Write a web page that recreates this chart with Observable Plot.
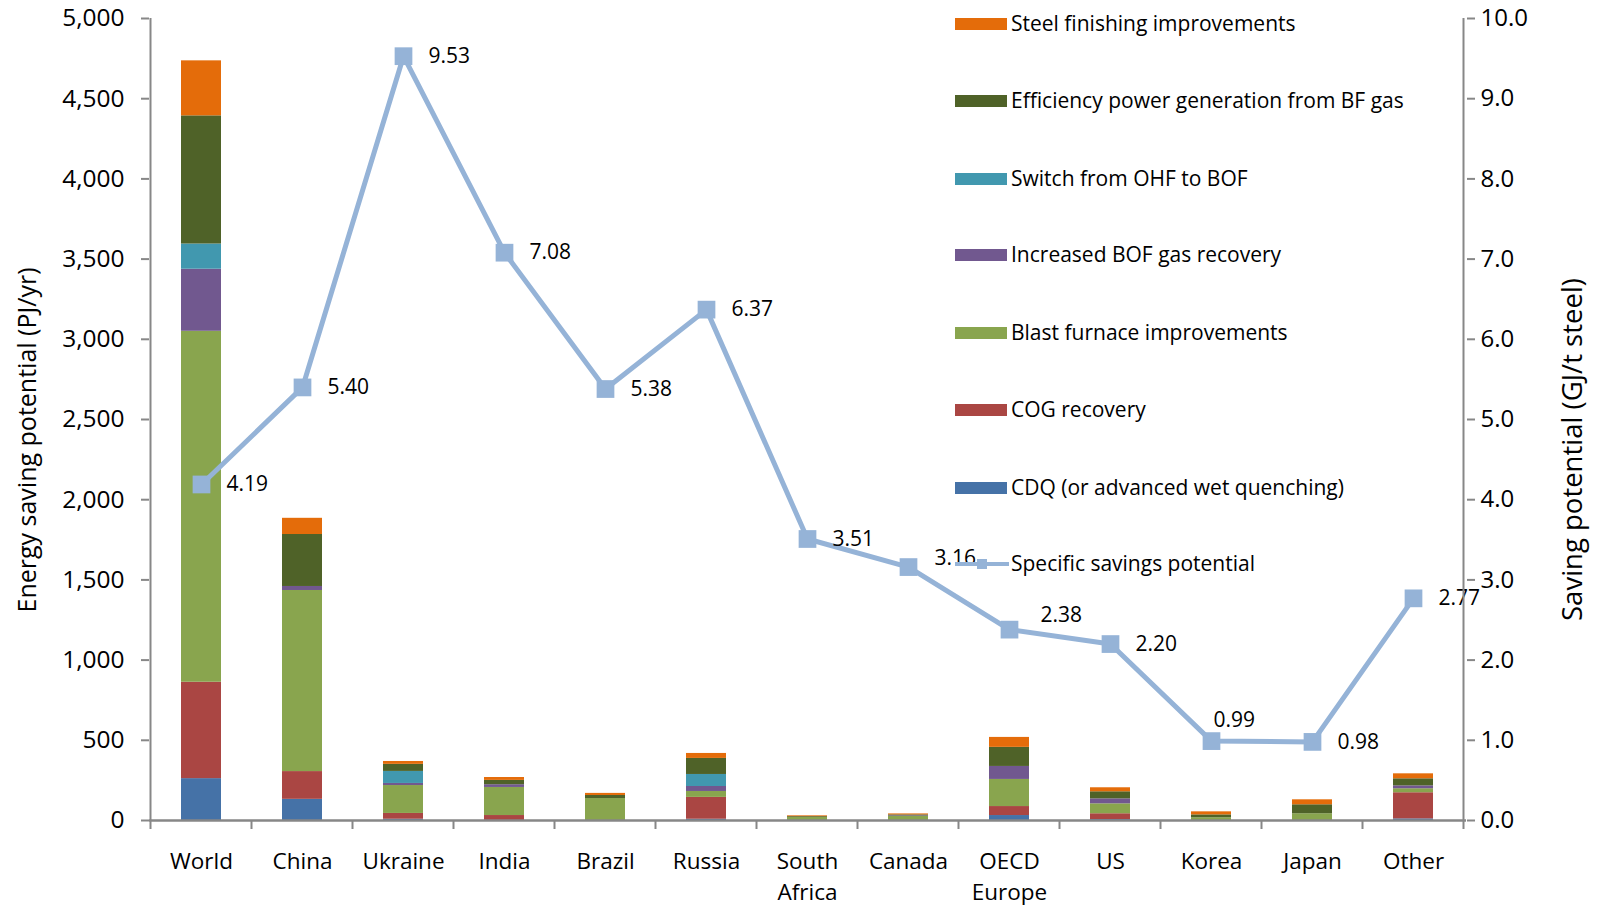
<!DOCTYPE html>
<html>
<head>
<meta charset="utf-8">
<script src="https://cdn.jsdelivr.net/npm/d3@7"></script>
<script src="https://cdn.jsdelivr.net/npm/@observablehq/plot@0.6"></script>
<style>
  html, body { margin: 0; padding: 0; background: #fff; }
  #wrap { position: relative; width: 1600px; height: 908px; font-family: "Open Sans", sans-serif; color: #000; }
  .ytitle { position: absolute; white-space: nowrap; font-size: 25px; transform-origin: center center; }
  .legend { position: absolute; left: 955px; top: 0; font-size: 21px; }
  .lrow { position: absolute; left: 0; height: 0; white-space: nowrap; }
  .sw { position: absolute; left: 0; width: 52px; height: 12px; top: -6px; }
  .lt { position: absolute; left: 56px; top: -15px; line-height: 28px; }
</style>
</head>
<body>
<div id="wrap"></div>
<script>
// ---- data ----
const countries = ["World","China","Ukraine","India","Brazil","Russia","South\nAfrica","Canada","OECD\nEurope","US","Korea","Japan","Other"];
const measures = [
  "CDQ (or advanced wet quenching)",
  "COG recovery",
  "Blast furnace improvements",
  "Increased BOF gas recovery",
  "Switch from OHF to BOF",
  "Efficiency power generation from BF gas",
  "Steel finishing improvements"
];
const colors = ["#4572A7","#AA4643","#89A54E","#71588F","#4198AF","#4F6228","#E46C0A"];
const cdq       = [261,132,  8,  0,  0,  8,  0,  0, 31,  6,  0,  0, 10];
const cog       = [601,173, 36, 31,  0,136,  0,  0, 56, 36,  0,  0,163];
const blast     = [2188,1129,174,175,137,37, 19, 25,169, 62, 17, 42, 25];
const bofGas    = [387, 25, 13, 17,  0, 31,  0,  4, 81, 31,  0,  0, 18];
const ohfSwitch = [157,  0, 75,  0,  0, 75,  0,  0,  0,  0,  0,  0,  0];
const bfPower   = [799,324, 44, 27, 19,100,  5,  6,119, 44, 18, 56, 44];
const finishing = [343,101, 18, 18, 13, 31,  5,  6, 62, 25, 19, 31, 31];
const specific  = [4.19,5.40,9.53,7.08,5.38,6.37,3.51,3.16,2.38,2.20,0.99,0.98,2.77];
const leftTicks  = [0,500,1000,1500,2000,2500,3000,3500,4000,4500,5000];
const rightTicks = [0,1,2,3,4,5,6,7,8,9,10];
const leftMax = 5000, rightMax = 10;
const lineName = "Specific savings potential";
const leftTitle = "Energy saving potential (PJ/yr)";
const rightTitle = "Saving potential (GJ/t steel)";

// ---- tables ----
const series = [cdq, cog, blast, bofGas, ohfSwitch, bfPower, finishing];
const stacked = [];
countries.forEach((c, i) => series.forEach((s, j) => stacked.push({country: c, measure: measures[j], value: s[i]})));
const ratio = leftMax / rightMax;
const lineData = countries.map((c, i) => ({country: c, v: specific[i], y: specific[i] * ratio}));
const above = new Set(["Korea"]);
const slightlyAbove = new Set(["OECD\nEurope"]);
const bitAbove = new Set(["Canada"]);

const axisColor = "#878787";
const chart = Plot.plot({
  width: 1600,
  height: 908,
  marginLeft: 149,
  marginRight: 134,
  marginTop: 18,
  marginBottom: 88,
  style: {fontFamily: "Open Sans, sans-serif", color: "#000", background: "#fff"},
  x: {type: "band", domain: countries, paddingInner: 0.6, paddingOuter: 0.3, align: 0.5, label: null},
  y: {domain: [0, leftMax], label: null},
  color: {domain: measures, range: colors},
  marks: [
    Plot.barY(stacked, {x: "country", y: "value", fill: "measure", order: measures}),
    Plot.line(lineData, {x: "country", y: "y", stroke: "#95B3D7", strokeWidth: 5, strokeLinejoin: "miter"}),
    Plot.dot(lineData, {x: "country", y: "y", symbol: "square", r: 10, fill: "#95B3D7", stroke: "none"}),
    Plot.text(lineData.filter(d => !above.has(d.country) && !slightlyAbove.has(d.country) && !bitAbove.has(d.country)),
      {x: "country", y: "y", text: d => d.v.toFixed(2), dx: 25, dy: 0, textAnchor: "start", fontSize: 21}),
    Plot.text(lineData.filter(d => above.has(d.country)),
      {x: "country", y: "y", text: d => d.v.toFixed(2), dx: 2, dy: -21, textAnchor: "start", fontSize: 21}),
    Plot.text(lineData.filter(d => slightlyAbove.has(d.country)),
      {x: "country", y: "y", text: d => d.v.toFixed(2), dx: 31, dy: -14, textAnchor: "start", fontSize: 21}),
    Plot.text(lineData.filter(d => bitAbove.has(d.country)),
      {x: "country", y: "y", text: d => d.v.toFixed(2), dx: 26, dy: -9, textAnchor: "start", fontSize: 21}),
    Plot.axisY({anchor: "left", ticks: leftTicks, tickFormat: d3.format(","), tickSize: 8, tickPadding: 17, fontSize: 24.5, stroke: axisColor, strokeWidth: 2, label: null}),
    Plot.axisY({anchor: "right", ticks: rightTicks.map(t => t * ratio), tickFormat: d => (d / ratio).toFixed(1), tickSize: 8, tickPadding: 6, fontSize: 24, stroke: axisColor, strokeWidth: 2, label: null}),
    Plot.axisX({tickSize: 0, tickPadding: 26, fontSize: 22.5, lineHeight: 1.4, label: null}),
    Plot.ruleY([0], {stroke: axisColor, strokeWidth: 2.5})
  ]
});

// axis lines and category separator ticks, positioned from the chart's own scales
const svg = d3.select(chart);
const xs = chart.scale("x"), ys = chart.scale("y");
const [y0, y1] = ys.range;
const g = svg.append("g").attr("stroke", axisColor).attr("stroke-width", 2);
const xLeft = xs.apply(countries[0]) - (xs.step - xs.bandwidth) / 2;
const xRight = xLeft + xs.step * countries.length;
g.append("line").attr("x1", xLeft).attr("x2", xLeft).attr("y1", y0).attr("y2", y1);
g.append("line").attr("x1", xRight).attr("x2", xRight).attr("y1", y0).attr("y2", y1);
d3.range(countries.length + 1).forEach(i => {
  const x = xLeft + i * xs.step;
  g.append("line").attr("x1", x).attr("x2", x).attr("y1", y0).attr("y2", y0 + 9);
});

const wrap = document.getElementById("wrap");
wrap.appendChild(chart);

// axis titles
const lt = document.createElement("div");
lt.className = "ytitle"; lt.textContent = leftTitle;
wrap.appendChild(lt);
const rt = document.createElement("div");
rt.className = "ytitle"; rt.textContent = rightTitle; rt.style.fontSize = "27.5px";
wrap.appendChild(rt);
function place(el, cx, cy) {
  const w = el.offsetWidth, h = el.offsetHeight;
  el.style.left = (cx - w / 2) + "px";
  el.style.top = (cy - h / 2) + "px";
  el.style.transform = "rotate(-90deg)";
}
place(lt, 25, 440);
place(rt, 1571, 449);

// legend (top to bottom: reverse stacking order, then the line)
const legend = document.createElement("div");
legend.className = "legend";
const rowsY = [23.5, 101, 178.6, 255, 332.6, 410, 487.7, 564.3];
const legendItems = measures.map((m, j) => ({name: m, color: colors[j]})).reverse();
legendItems.forEach((it, k) => {
  const r = document.createElement("div");
  r.className = "lrow"; r.style.top = rowsY[k] + "px";
  r.innerHTML = `<div class="sw" style="background:${it.color}"></div><div class="lt"></div>`;
  r.querySelector(".lt").textContent = it.name;
  legend.appendChild(r);
});
const lr = document.createElement("div");
lr.className = "lrow"; lr.style.top = rowsY[7] + "px";
lr.innerHTML = `<svg width="54" height="12" style="position:absolute;left:0;top:-6px"><line x1="0" x2="54" y1="6" y2="6" stroke="#95B3D7" stroke-width="4"/><rect x="22" y="1" width="10" height="10" fill="#95B3D7"/></svg><div class="lt"></div>`;
lr.querySelector(".lt").textContent = lineName;
legend.appendChild(lr);
wrap.appendChild(legend);
</script>
</body>
</html>
